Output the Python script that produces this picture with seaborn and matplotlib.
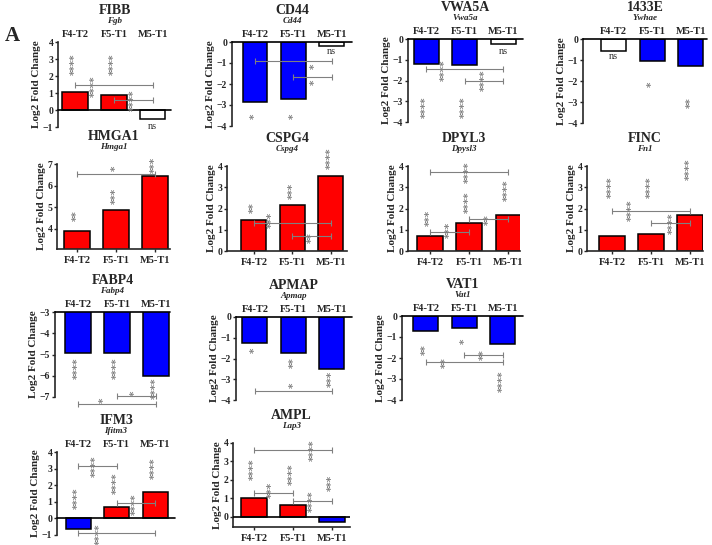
import pandas as pd
import seaborn as sns
import matplotlib.pyplot as plt

categories = ['F4-T2', 'F5-T1', 'M5-T1']

# log2 fold change per protein (F4-T2, F5-T1, M5-T1)
fibb = [1.03, 0.88, -0.55]
cd44 = [-2.85, -2.7, -0.2]
vwa5a = [-1.2, -1.27, -0.22]
e1433 = [-0.55, -1.03, -1.27]
hmga1 = [3.9, 4.85, 6.45]
cspg4 = [1.45, 2.15, 3.55]
dpyl3 = [0.7, 1.3, 1.68]
finc = [0.72, 0.78, 1.7]
fabp4 = [-4.95, -4.92, -6.0]
apmap = [-1.27, -1.75, -2.5]
vat1 = [-0.72, -0.55, -1.35]
ifm3 = [-0.62, 0.67, 1.6]
ampl = [1.02, 0.65, -0.3]

# bars without significance (white)
fibb_ns = [False, False, True]
cd44_ns = [False, False, True]
vwa5a_ns = [False, False, True]
e1433_ns = [True, False, False]
all_sig = [False, False, False]

# significance marks: (text, x, y) and comparison brackets: (x0, x1, y)
fibb_stars = [('****', 0, 2.7), ('****', 1, 2.7), ('****', 0.5, 1.4), ('****', 1.5, 0.6), ('ns', 2, -0.95)]
fibb_brackets = [(0, 2, 1.45), (1, 2, 0.6)]
cd44_stars = [('ns', 2, -0.45), ('*', 1.57, -1.15), ('*', 1.57, -1.9), ('*', 0, -3.55), ('*', 1, -3.55)]
cd44_brackets = [(0, 2, -0.9), (1, 2, -1.65)]
vwa5a_stars = [('ns', 2, -0.6), ('****', 0.5, -1.5), ('****', 1.53, -2.0), ('****', 0, -3.3), ('****', 1, -3.3)]
vwa5a_brackets = [(0, 2, -1.45), (1, 2, -2.0)]
e1433_stars = [('ns', 0, -0.85), ('*', 1, -2.15), ('**', 2, -3.05)]
e1433_brackets = []
hmga1_stars = [('**', 0, 4.6), ('***', 1, 5.5), ('***', 2, 6.95), ('*', 1, 6.8)]
hmga1_brackets = [(0, 2, 6.55)]
cspg4_stars = [('**', 0, 2.05), ('***', 0.47, 1.45), ('***', 1, 2.85), ('****', 2, 4.35), ('**', 1.5, 0.65)]
cspg4_brackets = [(0, 2, 1.3), (1, 2, 0.7)]
dpyl3_stars = [('***', 0, 1.55), ('***', 0.5, 1.0), ('****', 1, 2.3), ('****', 1, 3.7), ('**', 1.5, 1.5), ('****', 2, 2.85)]
dpyl3_brackets = [(0, 1, 0.9), (0, 2, 3.7), (1, 2, 1.5)]
finc_stars = [('****', 0, 3.0), ('****', 1, 3.0), ('****', 2, 3.85), ('****', 0.5, 1.9), ('****', 1.55, 1.3)]
finc_brackets = [(0, 2, 1.9), (1, 2, 1.3)]
fabp4_stars = [('****', 0, -5.65), ('****', 1, -5.65), ('****', 2, -6.6), ('*', 0.67, -7.15), ('*', 1.46, -6.85)]
fabp4_brackets = [(0, 2, -7.35), (1, 2, -6.95)]
apmap_stars = [('*', 0, -1.6), ('**', 1, -2.2), ('***', 2, -3.0), ('*', 1, -3.3)]
apmap_brackets = [(0, 2, -3.55)]
vat1_stars = [('**', 0, -1.62), ('*', 1, -1.2), ('**', 0.52, -2.2), ('**', 1.5, -1.85), ('****', 2, -3.13)]
vat1_brackets = [(0, 2, -2.2), (1, 2, -1.85)]
ifm3_stars = [('****', 0, 1.2), ('****', 0.47, 3.15), ('****', 1, 2.1), ('****', 1.5, 0.85), ('****', 2, 3.0), ('****', 0.57, -0.95)]
ifm3_brackets = [(0, 1, 3.15), (1, 2, 0.9), (0, 2, -0.9)]
ampl_stars = [('****', 0, 2.6), ('****', 1.53, 3.6), ('***', 0.46, 1.45), ('****', 1, 2.3), ('****', 1.5, 0.87), ('***', 2, 1.83)]
ampl_brackets = [(0, 2, 3.6), (0, 1, 1.3), (1, 2, 0.85)]

W, H = 712, 545
RED, BLUE, GRAY = '#ff0000', '#0000ff', '#808080'

sns.set_style('ticks')
plt.rcParams['font.family'] = ['Liberation Serif', 'DejaVu Serif']
plt.rcParams['font.weight'] = 'bold'

# name, gene, values, ns, stars, brackets, (left, top, right, bottom) px, ylim, yticks, xlim, labels on top
paineis = [
    ('FIBB', 'Fgb', fibb, fibb_ns, fibb_stars, fibb_brackets, (58, 42, 171, 127), (-1, 4), range(-1, 5), (-0.44, 2.47), True),
    ('CD44', 'Cd44', cd44, cd44_ns, cd44_stars, cd44_brackets, (232, 42, 352, 126), (-4, 0), range(-4, 1), (-0.6, 2.53), True),
    ('VWA5A', 'Vwa5a', vwa5a, vwa5a_ns, vwa5a_stars, vwa5a_brackets, (408, 39, 523, 122), (-4, 0), range(-4, 1), (-0.47, 2.52), True),
    ('1433E', 'Ywhae', e1433, e1433_ns, e1433_stars, e1433_brackets, (583, 39, 707, 123), (-4, 0), range(-4, 1), (-0.8, 2.42), True),
    ('HMGA1', 'Hmga1', hmga1, all_sig, hmga1_stars, hmga1_brackets, (57, 164, 170, 249), (3.05, 7), range(4, 8), (-0.51, 2.38), False),
    ('CSPG4', 'Cspg4', cspg4, all_sig, cspg4_stars, cspg4_brackets, (227, 166, 347, 251), (0, 4), range(0, 5), (-0.7, 2.42), False),
    ('DPYL3', 'Dpysl3', dpyl3, all_sig, dpyl3_stars, dpyl3_brackets, (408, 166, 520, 251), (0, 4), range(0, 5), (-0.56, 2.3), False),
    ('FINC', 'Fn1', finc, all_sig, finc_stars, finc_brackets, (587, 166, 703, 251), (0, 4), range(0, 5), (-0.64, 2.33), False),
    ('FABP4', 'Fabp4', fabp4, all_sig, fabp4_stars, fabp4_brackets, (55, 312, 170, 397), (-7, -3), range(-7, -2), (-0.59, 2.36), True),
    ('APMAP', 'Apmap', apmap, all_sig, apmap_stars, apmap_brackets, (236, 317, 352, 400), (-4, 0), range(-4, 1), (-0.49, 2.52), True),
    ('VAT1', 'Vat1', vat1, all_sig, vat1_stars, vat1_brackets, (402, 316, 523, 400), (-4, 0), range(-4, 1), (-0.62, 2.52), True),
    ('IFM3', 'Ifitm3', ifm3, all_sig, ifm3_stars, ifm3_brackets, (57, 452, 175, 535), (-1, 4), range(-1, 5), (-0.55, 2.52), True),
    ('AMPL', 'Lap3', ampl, all_sig, ampl_stars, ampl_brackets, (233, 443, 350, 527), (-0.55, 4), range(0, 5), (-0.54, 2.46), False),
]

fig = plt.figure(figsize=(W / 100, H / 100), dpi=100)

for nome, gene, valores, ns, stars, brackets, (l, t, r, b), ylim, yticks, xlim, topo in paineis:
    ax = fig.add_axes([l / W, 1 - b / H, (r - l) / W, (b - t) / H])
    cores = ['white' if n else (RED if v > 0 else BLUE) for v, n in zip(valores, ns)]
    df = pd.DataFrame({'grupo': categories, 'lfc': valores})
    sns.barplot(data=df, x='grupo', y='lfc', hue='grupo', palette=cores, legend=False,
                saturation=1, width=0.65, edgecolor='black', linewidth=1.1, ax=ax)
    ax.set_ylim(*ylim)
    ax.set_xlim(*xlim)
    ax.set_yticks(list(yticks))
    ax.set_xlabel('')
    ax.set_ylabel('Log2 Fold Change', fontsize=8, fontweight='bold', labelpad=1)
    ax.spines['right'].set_visible(False)
    ax.spines['top'].set_visible(False)
    ax.spines['left'].set_linewidth(1.2)
    ax.tick_params(axis='y', labelsize=7, length=2.5, width=1, pad=1)

    if topo:
        ax.spines['bottom'].set_visible(False)
        ax.axhline(min(0, ylim[1]), color='black', lw=1.2, clip_on=False, zorder=3)
        ax.tick_params(axis='x', length=0, labeltop=True, labelbottom=False, labelsize=7.5, pad=2.5)
        off_t, off_s = 23, 15
    else:
        ax.spines['bottom'].set_linewidth(1.2)
        if ylim[0] < 0:
            ax.axhline(0, color='black', lw=1.2, zorder=3)
        ax.tick_params(axis='x', length=2, width=1, labelsize=7.5, pad=3)
        off_t, off_s = 20, 12.5

    ax.annotate(nome, xy=(0.5, 1), xycoords='axes fraction', xytext=(0, off_t),
                textcoords='offset points', ha='center', va='center', fontsize=10, fontweight='bold')
    ax.annotate(gene, xy=(0.5, 1), xycoords='axes fraction', xytext=(0, off_s),
                textcoords='offset points', ha='center', va='center', fontsize=6.5,
                fontstyle='italic', fontweight='bold')

    for x0, x1, y in brackets:
        ax.plot([x0, x1], [y, y], color=GRAY, lw=0.8, marker='|', markersize=5,
                markeredgewidth=0.8, clip_on=False, zorder=4)
    for txt, x, y in stars:
        if txt == 'ns':
            ax.text(x, y, txt, ha='center', va='center', fontsize=7.5, fontweight='normal',
                    color='#333333', clip_on=False, zorder=5)
        else:
            ax.text(x, y, txt, ha='center', va='center', fontsize=7.5, rotation=90,
                    family='DejaVu Sans', fontweight='bold', color=GRAY, clip_on=False, zorder=5)

fig.text(12 / W, 1 - 36 / H, 'A', fontsize=15, fontweight='bold', ha='center', va='center')

fig.savefig('out.png', dpi=100)
